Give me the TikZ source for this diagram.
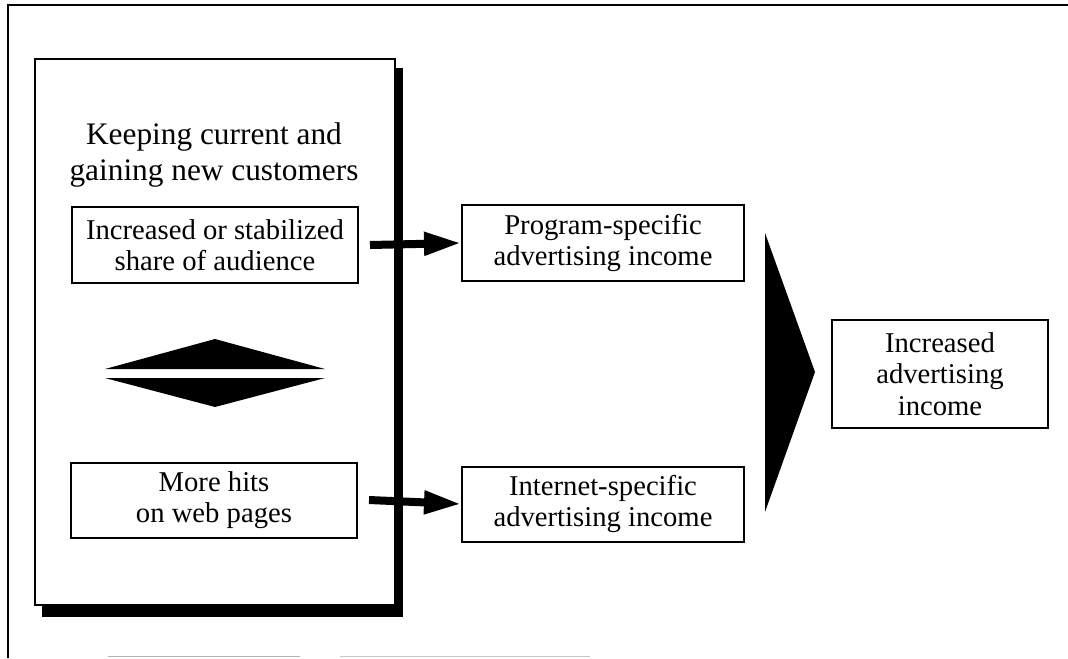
\documentclass[tikz,border=0pt]{standalone}
\usepackage{fontspec}
\setmainfont{Liberation Serif}
\usetikzlibrary{arrows.meta,calc}
\tikzset{
  box/.style={draw, line width=1.5pt, fill=white, align=center, inner sep=0pt,
     font=\fontsize{21.5}{23.5}\selectfont},
  plain/.style={align=center, inner sep=0pt, font=\fontsize{23.5}{26.5}\selectfont},
  arr/.style={line width=6pt, -{Triangle[length=27.75pt,width=16.5pt]}},
  frame/.style={line width=1.5pt},
}
\begin{document}
\begin{tikzpicture}[x=0.75pt,y=-0.75pt]
\useasboundingbox (0,0) rectangle (1068,658);
% outer frame
\coordinate (ftl) at (8,5);
\draw[frame] (1068,5) -- (ftl) -- (8,658);
\draw[line width=0.6pt, black!30] (108,656) -- (300,656);
\draw[line width=0.6pt, black!22] (340,656) -- (590,656);
% main box with shadow
\fill[black] (42,68) rectangle (403,617);
\node[box, minimum width=270pt, minimum height=409.5pt] (main) at (215,332) {};
\node[plain] (title) at (214,155) {Keeping current and\\gaining new customers};
\node[box, minimum width=214.5pt, minimum height=57pt] (box1) at (215,245) {Increased or stabilized\\share of audience};
\node[box, minimum width=214.5pt, minimum height=56.25pt] (box2) at (214,500) {More hits\\on web pages};
% diamond (two triangles)
\fill[black] (105,369) -- (215,339) -- (325,369) -- cycle;
\fill[black] (105,378) -- (215,407) -- (325,378) -- cycle;
% right-hand boxes
\node[box, minimum width=211.5pt, minimum height=57pt] (prog) at (603,243) {Program-specific\\advertising income};
\node[box, minimum width=211.5pt, minimum height=56.25pt] (inet) at (603,504) {Internet-specific\\advertising income};
\node[box, minimum width=162pt, minimum height=81pt] (inc) at (940,374) {Increased\\advertising\\income};
% arrows
\draw[arr] ($(box1.east)+(11,0)$ |- prog.west) -- (prog.west);
\draw[arr] ($(box2.east)+(11,0)$ |- inet.west) -- (inet.west);
% chevron
\fill[black] (765,233) -- (815,372) -- (765,512) -- cycle;
\end{tikzpicture}
\end{document}
